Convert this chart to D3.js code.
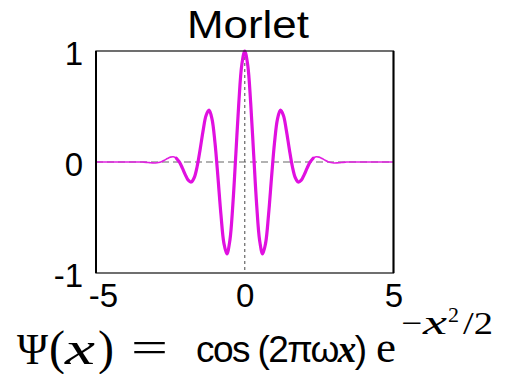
<!DOCTYPE html>
<html>
<head>
<meta charset="utf-8">
<script src="https://cdn.jsdelivr.net/npm/d3@7"></script>
<style>
  html, body { margin: 0; padding: 0; background: #fff; }
  svg { display: block; }
</style>
</head>
<body>
<svg id="chart" width="508" height="374"></svg>
<script>
// Morlet wavelet samples: x positions and Ψ(x) values
const xSamples = [
  -5, -4,
  -3.5, -3.4, -3.3, -3.2, -3.1, -3.0, -2.9, -2.8, -2.7, -2.6,
  -2.5, -2.4, -2.3, -2.2, -2.1, -2.0, -1.9, -1.8, -1.7, -1.6,
  -1.5, -1.4, -1.3, -1.2, -1.1, -1.0, -0.9, -0.8, -0.7, -0.6,
  -0.5, -0.4, -0.3, -0.2, -0.1, 0,
  0.1, 0.2, 0.3, 0.4, 0.5, 0.6, 0.7, 0.8, 0.9, 1.0,
  1.1, 1.2, 1.3, 1.4, 1.5, 1.6, 1.7, 1.8, 1.9, 2.0,
  2.1, 2.2, 2.3, 2.4, 2.5, 2.6, 2.7, 2.8, 2.9, 3.0,
  3.1, 3.2, 3.3, 3.4, 3.5,
  4, 5
];
const psiValues = [
  0, 0,
  0.0005, -0.0008, -0.0030, -0.0057, -0.0080, -0.0084, -0.0053, 0.0027, 0.0155, 0.0309,
  0.0438, 0.0474, 0.0343, 0.0004, -0.0524, -0.1136, -0.1640, -0.1803, -0.1419, -0.0404,
  0.1125, 0.2829, 0.4195, 0.4674, 0.3870, 0.1720, -0.1406, -0.4746, -0.7330, -0.8269,
  -0.7070, -0.3841, 0.0676, 0.5296, 0.8732, 1,
  0.8732, 0.5296, 0.0676, -0.3841, -0.7070, -0.8269, -0.7330, -0.4746, -0.1406, 0.1720,
  0.3870, 0.4674, 0.4195, 0.2829, 0.1125, -0.0404, -0.1419, -0.1803, -0.1640, -0.1136,
  -0.0524, 0.0004, 0.0343, 0.0474, 0.0438, 0.0309, 0.0155, 0.0027, -0.0053, -0.0084,
  -0.0080, -0.0057, -0.0030, -0.0008, 0.0005,
  0, 0
];
const xTicks = [-5, 0, 5];
const yTicks = [-1, 0, 1];
const titleText = "Morlet";

const svg = d3.select("#chart");
const plotLeft = 96, plotRight = 393.5, plotTop = 51, plotBottom = 273;

const x = d3.scaleLinear().domain([-5, 5]).range([plotLeft, plotRight]);
const y = d3.scaleLinear().domain([-1, 1]).range([plotBottom, plotTop]);

const points = xSamples.map((v, i) => ({ x: v, y: psiValues[i] }));

// dashed reference lines through the origin
svg.append("line")
  .attr("x1", x(-5)).attr("x2", x(5))
  .attr("y1", y(0)).attr("y2", y(0))
  .attr("stroke", "#666").attr("stroke-width", 1.2)
  .attr("stroke-dasharray", "7,4");
svg.append("line")
  .attr("x1", x(0)).attr("x2", x(0))
  .attr("y1", y(1)).attr("y2", y(-1))
  .attr("stroke", "#666").attr("stroke-width", 1.2)
  .attr("stroke-dasharray", "3,3");

// wavelet curve: thin tails, heavier core
const line = d3.line()
  .x(d => x(d.x)).y(d => y(d.y))
  .curve(d3.curveCatmullRom.alpha(0.5));

svg.append("path")
  .datum(points)
  .attr("d", line)
  .attr("fill", "none")
  .attr("stroke", "#e020e0")
  .attr("stroke-width", 1.6);

svg.append("path")
  .datum(points.filter(d => Math.abs(d.x) <= 2.3))
  .attr("d", line)
  .attr("fill", "none")
  .attr("stroke", "#e010e0")
  .attr("stroke-width", 3.2)
  .attr("stroke-linejoin", "round")
  .attr("stroke-linecap", "round");

// frame
svg.append("rect")
  .attr("x", plotLeft).attr("y", plotTop)
  .attr("width", plotRight - plotLeft).attr("height", plotBottom - plotTop)
  .attr("fill", "none").attr("stroke", "#222").attr("stroke-width", 1.3);
[plotLeft, plotRight].forEach(px => {
  svg.append("line")
    .attr("x1", px).attr("x2", px).attr("y1", plotTop).attr("y2", plotBottom)
    .attr("stroke", "#000").attr("stroke-width", 2);
});

// axes (labels only)
const yAxis = svg.append("g")
  .attr("transform", `translate(${plotLeft},0)`)
  .call(d3.axisLeft(y).tickValues(yTicks).tickSize(0).tickPadding(13)
    .tickFormat(d => String(d)));
yAxis.select(".domain").remove();
yAxis.selectAll("text")
  .attr("font-family", "Liberation Sans, Arial, sans-serif")
  .attr("font-size", 33).attr("fill", "#000")
  .attr("dy", "0.42em");

const xAxis = svg.append("g")
  .attr("transform", `translate(0,${plotBottom})`)
  .call(d3.axisBottom(x).tickValues(xTicks).tickSize(0).tickPadding(0)
    .tickFormat(d => String(d)));
xAxis.select(".domain").remove();
xAxis.selectAll("text")
  .attr("font-family", "Liberation Sans, Arial, sans-serif")
  .attr("font-size", 33).attr("fill", "#000")
  .attr("dy", null).attr("y", 34)
  .attr("dx", d => d === -5 ? 7 : 0);

// title
svg.append("text")
  .attr("x", 187).attr("y", 38)
  .attr("font-family", "Liberation Sans, Arial, sans-serif")
  .attr("font-size", 39)
  .attr("textLength", 122).attr("lengthAdjust", "spacingAndGlyphs")
  .text(titleText);

// formula: Ψ(x) = cos (2πωx) e^{-x²/2}, set piece by piece
const serif = "Liberation Serif, 'Times New Roman', serif";
const sans = "Liberation Sans, Arial, sans-serif";
const formula = svg.append("g");
function piece(txt, px, py, opts) {
  const t = formula.append("text")
    .attr("x", px).attr("y", py)
    .attr("font-family", opts.family || serif)
    .attr("font-size", opts.size || 44)
    .text(txt);
  if (opts.italic) t.attr("font-style", "italic");
  if (opts.bold) t.attr("font-weight", "bold");
  if (opts.len) t.attr("textLength", opts.len).attr("lengthAdjust", "spacingAndGlyphs");
  return t;
}
piece("Ψ", 17, 364, { size: 44, len: 31 });
piece("(", 49, 364, { size: 48 });
piece("x", 65, 364, { size: 46, italic: true, len: 30 });
piece(")", 98, 364, { size: 48 });
piece("=", 131, 362, { size: 44, len: 37 });

// middle factor as one run of text, the variable set in bold italic serif
const mid = formula.append("text")
  .attr("x", 196).attr("y", 362)
  .attr("font-family", sans).attr("font-size", 37)
  .attr("letter-spacing", -1.6);
mid.append("tspan").text("cos (2πω");
mid.append("tspan").attr("font-family", serif)
  .attr("font-style", "italic").attr("font-weight", "bold").text("x");
mid.append("tspan").text(")");

piece("e", 376, 362, { size: 45 });
piece("−", 401, 334, { size: 32, len: 21 });
piece("x", 423, 334, { size: 34, italic: true, len: 24 });
piece("2", 448, 322, { size: 22 });
piece("/2", 463, 334, { size: 32, len: 30 });
</script>
</body>
</html>
